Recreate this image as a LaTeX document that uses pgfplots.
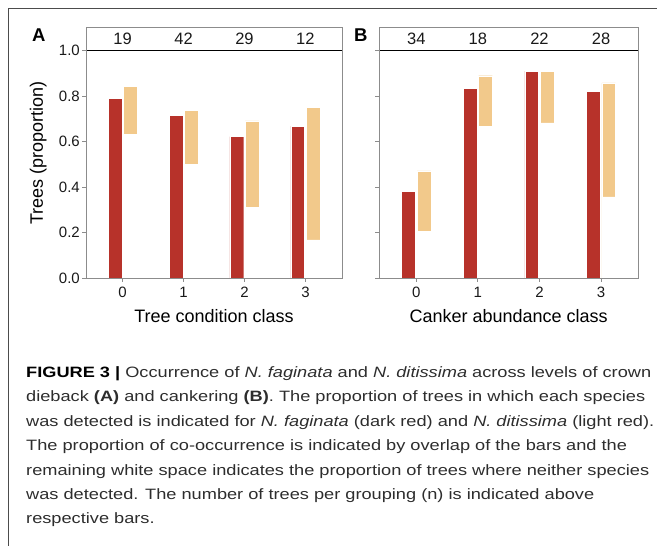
\documentclass[border=0pt]{standalone}
\usepackage{fontspec}
\setmainfont{Liberation Sans}
\newfontfamily\capfont{Liberation Sans}
\usepackage{graphicx}
\usepackage{pgfplots}
\pgfplotsset{compat=1.18}
\definecolor{darkbar}{HTML}{B7322A}
\definecolor{lightbar}{HTML}{F2C98B}
\definecolor{bordergray}{RGB}{140,140,140}
\definecolor{captext}{RGB}{45,45,45}
\newsavebox\capbox
\tikzset{nlab/.style={font=\fontsize{16.5}{18}\selectfont, text=black!90}}
\pgfplotsset{
  panel/.style={
    scale only axis, anchor=south west,
    ymin=0, ymax=1.1, xmin=-0.6, xmax=3.6,
    height=250.3pt,
    xtick={0,1,2,3}, xticklabels={0,1,2,3},
    ytick={0,0.2,0.4,0.6,0.8,1.0},
    tick align=outside, major tick length=4pt,
    xtick pos=lower, ytick pos=left,
    tick style={bordergray, line width=0.8pt},
    axis line style={bordergray, line width=0.8pt},
    ticklabel style={font=\fontsize{15}{18}\selectfont, text=black!90},
    xticklabel style={inner sep=0pt, anchor=north, yshift=-4.5pt},
    yticklabel style={inner sep=0pt, anchor=east, xshift=-2pt},
    xlabel style={at={(axis description cs:0.5,-0.1786)}, anchor=base, font=\fontsize{18}{20}\selectfont, inner sep=0pt},
    ylabel style={at={(axis description cs:-0.168,0.5)}, anchor=base, font=\fontsize{18}{20}\selectfont, inner sep=0pt},
    axis on top,
    bar width=0.225,
  },
  dk/.style={ybar, fill=darkbar, draw=white, line width=0.4pt, bar shift=-0.125},
  lt/.style={ybar, fill=lightbar, draw=white, line width=0.4pt, bar shift=0.125},
  wt/.style={ybar, fill=white, draw=white, line width=0.4pt, bar shift=0.125},
}
\begin{document}
\sbox\capbox{\capfont\fontsize{15}{18}\selectfont\textbf{FIGURE 3 |} Occurrence of \textit{N. faginata} and \textit{N. ditissima} across levels of crown}%
\pgfmathsetmacro\capscale{625/\the\wd\capbox}%
\begin{tikzpicture}[x=1pt,y=1pt]
\useasboundingbox (0,0) rectangle (657,546);
\draw[black!70, line width=0.8pt] (8,0) -- (8,537.7) -- (657,537.7);

% ---------- Panel A ----------
\begin{axis}[panel, at={(86pt,268pt)}, width=256pt,
  yticklabels={0.0,0.2,0.4,0.6,0.8,1.0},
  xlabel={Tree condition class}, ylabel={Trees (proportion)}]
\addplot[dk] coordinates {(0,0.789) (1,0.714) (2,0.621) (3,0.667)};
\addplot[lt] coordinates {(0,0.842) (1,0.738) (2,0.690) (3,0.750)};
\addplot[wt] coordinates {(0,0.632) (1,0.500) (2,0.310) (3,0.167)};
\addplot[black, line width=0.8pt] coordinates {(-0.6,1) (3.6,1)};
\node[nlab] at (axis cs:0,1.05) {19};
\node[nlab] at (axis cs:1,1.05) {42};
\node[nlab] at (axis cs:2,1.05) {29};
\node[nlab] at (axis cs:3,1.05) {12};
\end{axis}

% ---------- Panel B ----------
\begin{axis}[panel, at={(379.3pt,268pt)}, width=258.7pt,
  yticklabels={},
  xlabel={Canker abundance class}]
\addplot[dk] coordinates {(0,0.382) (1,0.833) (2,0.909) (3,0.821)};
\addplot[lt] coordinates {(0,0.471) (1,0.889) (2,0.909) (3,0.857)};
\addplot[wt] coordinates {(0,0.206) (1,0.667) (2,0.682) (3,0.357)};
\addplot[black, line width=0.8pt] coordinates {(-0.6,1) (3.6,1)};
\node[nlab] at (axis cs:0,1.05) {34};
\node[nlab] at (axis cs:1,1.05) {18};
\node[nlab] at (axis cs:2,1.05) {22};
\node[nlab] at (axis cs:3,1.05) {28};
\end{axis}

\node[anchor=base west, inner sep=0pt, font=\bfseries\fontsize{18.5}{20}\selectfont] at (32,504.3) {A};
\node[anchor=base west, inner sep=0pt, font=\bfseries\fontsize{18.5}{20}\selectfont] at (354,504.3) {B};

% ---------- Caption ----------
\def\capline#1#2{\node[anchor=base west, inner sep=0pt, text=captext] at (26,#1) {\scalebox{\capscale}[1]{\capfont\fontsize{15}{18}\selectfont #2}};}
\capline{168.5}{\textcolor{black}{\textbf{FIGURE 3 |}} Occurrence of \textit{N. faginata} and \textit{N. ditissima} across levels of crown}
\capline{144.1}{dieback \textbf{(A)} and cankering \textbf{(B)}. The proportion of trees in which each species}
\capline{119.7}{was detected is indicated for \textit{N. faginata} (dark red) and \textit{N. ditissima} (light red).}
\capline{95.3}{The proportion of co-occurrence is indicated by overlap of the bars and the}
\capline{70.9}{remaining white space indicates the proportion of trees where neither species}
\capline{46.5}{was detected. The number of trees per grouping (n) is indicated above}
\capline{22.1}{respective bars.}
\end{tikzpicture}
\end{document}
